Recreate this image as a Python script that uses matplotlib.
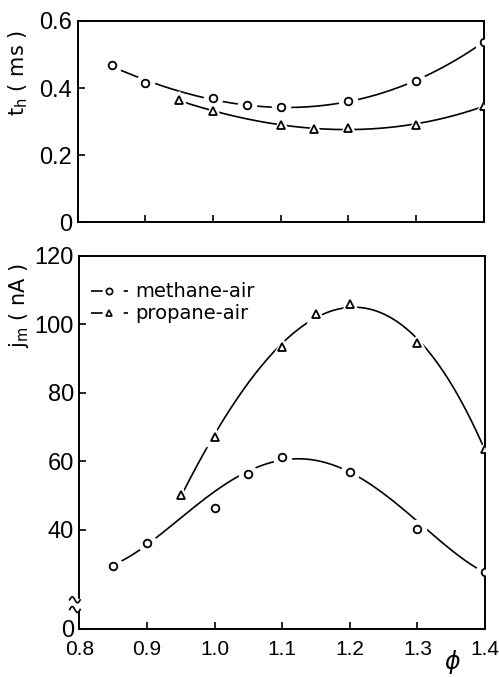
import numpy as np
import matplotlib
matplotlib.use("Agg")
import matplotlib.pyplot as plt
from matplotlib.lines import Line2D

# --- data ---
phi_m = [0.85, 0.90, 1.00, 1.05, 1.10, 1.20, 1.30, 1.40]
th_m  = [0.469, 0.416, 0.370, 0.348, 0.342, 0.361, 0.420, 0.538]
jm_m  = [29.5, 36.3, 46.5, 56.3, 61.4, 56.8, 40.3, 27.6]

phi_p = [0.95, 1.00, 1.10, 1.15, 1.20, 1.30, 1.40]
th_p  = [0.363, 0.331, 0.290, 0.277, 0.281, 0.290, 0.346]
jm_p  = [50.2, 67.2, 93.5, 103.1, 105.9, 94.5, 63.6]

x_ticks  = [0.8, 0.9, 1.0, 1.1, 1.2, 1.3, 1.4]
th_ticks = [0, 0.2, 0.4, 0.6]
jm_ticks = [40, 60, 80, 100, 120]
jm_floor = 11.1          # bottom of the broken axis, labelled "0"

labels = ["methane-air", "propane-air"]

# the hand-drawn methane j_m curve misses the 1.0 and 1.3 points
fit_w_jm_m = [1, 1, 0.25, 1, 1, 1, 0.25, 1]

NUMFONT = "Liberation Sans"
plt.rcParams["font.family"] = ["DejaVu Sans"]
plt.rcParams["mathtext.fontset"] = "dejavusans"

MS, HALO, LW = 5.5, 13, 1.2


def trend(ax, x, y, deg=3, x_end=None, w=None):
    xs = np.linspace(min(x), x_end if x_end else max(x), 200)
    c = np.polyfit(x, y, deg, w=w)
    ax.plot(xs, np.polyval(c, xs), color="black", lw=LW, zorder=1)


def points(ax, x, y, marker):
    # white halo first so the curve breaks around each point
    ax.plot(x, y, ls="none", marker=marker, ms=HALO, color="white", zorder=2)
    ax.plot(x, y, ls="none", marker=marker, ms=MS, mfc="white", mec="black", mew=1.3, zorder=3)


def style(ax):
    for s in ax.spines.values():
        s.set_linewidth(1.4)
    ax.tick_params(direction="in", length=5, width=1.2, top=False, right=False)
    ax.set_xlim(0.8, 1.4)
    ax.set_xticks(x_ticks)
    for t in ax.get_yticklabels():
        t.set_fontfamily(NUMFONT)
        t.set_fontsize(17)
    for t in ax.get_xticklabels():
        t.set_fontfamily(NUMFONT)
        t.set_fontsize(15)


fig = plt.figure(figsize=(4.99, 6.77), dpi=100)
ax1 = fig.add_axes([0.156, 0.672, 0.813, 0.297])
ax2 = fig.add_axes([0.159, 0.071, 0.813, 0.551])

# --- top: t_h ---
trend(ax1, phi_m, th_m)
trend(ax1, phi_p, th_p)
points(ax1, phi_m, th_m, "o")
points(ax1, phi_p, th_p, "^")
ax1.set_ylim(0, 0.6)
ax1.set_yticks(th_ticks)
ax1.set_yticklabels(["0", "0.2", "0.4", "0.6"])
style(ax1)
ax1.tick_params(labelbottom=False, pad=4)
ax1.set_ylabel("t$_\\mathregular{h}$ ( ms )", fontsize=15)
ax1.yaxis.set_label_coords(-0.118, 0.74)

# --- bottom: j_m ---
trend(ax2, phi_m, jm_m, deg=4, x_end=1.39, w=fit_w_jm_m)
trend(ax2, phi_p, jm_p)
points(ax2, phi_m, jm_m, "o")
points(ax2, phi_p, jm_p, "^")
ax2.set_ylim(jm_floor, 120)
ax2.set_yticks([jm_floor] + jm_ticks)
ax2.set_yticklabels(["0"] + [str(v) for v in jm_ticks])
style(ax2)
ax2.tick_params(axis="x", pad=8)
ax2.tick_params(axis="y", pad=4)
ax2.set_ylabel("j$_\\mathregular{m}$ ( nA )", fontsize=15)
ax2.yaxis.set_label_coords(-0.12, 0.866)
ax2.text(0.918, -0.088, "ϕ", transform=ax2.transAxes, ha="center", va="center",
         fontsize=17, style="italic")

# axis break on the left spine
ax2.add_patch(plt.Rectangle((-0.01, 0.05), 0.02, 0.03, transform=ax2.transAxes,
                            color="white", clip_on=False, zorder=5))
tt = np.linspace(0, 1, 30)
for yb in (0.078, 0.052):
    ax2.plot(-0.024 + 0.026 * tt, yb + 0.008 * np.sin(2 * np.pi * tt),
             transform=ax2.transAxes, color="black", lw=1.2, clip_on=False, zorder=6)

# legend with "-o-" handles
handles = [Line2D([], [], color="black", lw=LW, ls=(0, (7, 12.6)), marker=m, ms=MS - 1,
                  mfc="white", mec="black", mew=1.2)
           for m in ("o", "^")]
ax2.legend(handles, labels, loc="upper left", frameon=False, fontsize=14,
           handlelength=1.9, handletextpad=0.4, labelspacing=0.15,
           borderaxespad=0.2, bbox_to_anchor=(0.0, 0.96))

fig.savefig("out.png", dpi=100)
